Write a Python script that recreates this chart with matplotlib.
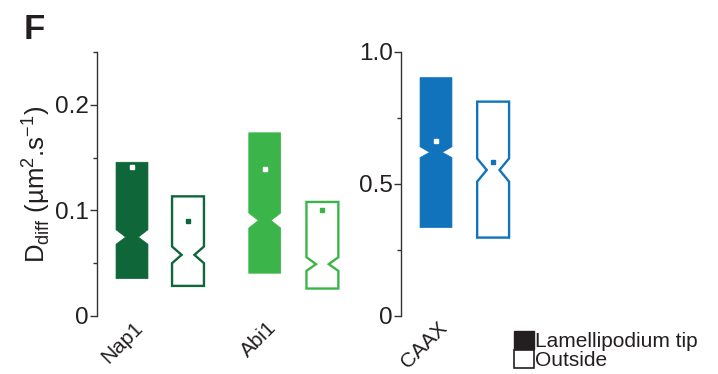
import matplotlib
matplotlib.use("Agg")
import matplotlib.pyplot as plt
from matplotlib.patches import Polygon, Patch

plt.rcParams['font.family'] = ['Liberation Sans', 'DejaVu Sans']

# ---- data ----
groups = ["Nap1", "Abi1", "CAAX"]
colors = ["#0F6638", "#3BB54A", "#1173BB"]

tip_q1 = [0.0354, 0.0405, 0.335]
tip_q3 = [0.1456, 0.1735, 0.903]
tip_med = [0.0747, 0.0905, 0.620]
tip_notch_lo = [0.0680, 0.0833, 0.600]
tip_notch_hi = [0.0817, 0.0975, 0.641]
tip_mean = [0.1410, 0.1393, 0.662]

out_q1 = [0.0285, 0.0260, 0.297]
out_q3 = [0.1133, 0.1080, 0.812]
out_med = [0.0579, 0.0491, 0.553]
out_notch_lo = [0.0500, 0.0427, 0.509]
out_notch_hi = [0.0658, 0.0557, 0.597]
out_mean = [0.0899, 0.1004, 0.582]

W, H = 718, 374
fig = plt.figure(figsize=(W / 100, H / 100), dpi=100)

def px_axes(x0, y0, x1, y1):
    return fig.add_axes([x0 / W, 1 - y1 / H, (x1 - x0) / W, (y1 - y0) / H])

unit = 56.0  # px per x unit
left_lim = 0.375

axL = px_axes(97, 52, 97 + unit * 4.8, 316)
axR = px_axes(401, 52, 401 + unit * 2.8, 316)

def notched(ax, pos, q1, q3, med, lo, hi, mean, color, filled):
    w = 0.57
    ind = 0.3 * w
    l, r = pos - w / 2, pos + w / 2
    verts = [(l, q1), (r, q1), (r, lo), (r - ind, med), (r, hi), (r, q3),
             (l, q3), (l, hi), (l + ind, med), (l, lo)]
    if filled:
        p = Polygon(verts, closed=True, facecolor=color, edgecolor=color, lw=0.5)
        mc = "white"
    else:
        p = Polygon(verts, closed=True, facecolor="white", edgecolor=color, lw=1.7,
                    joinstyle="miter")
        mc = color
    ax.add_patch(p)
    ax.plot([pos], [mean], marker="s", ms=3.5, color=mc, mec=mc, ls="none", zorder=5)

def style(ax, ymax, major, minor, fmt):
    ax.set_ylim(0, ymax)
    for s in ["top", "right", "bottom"]:
        ax.spines[s].set_visible(False)
    ax.spines["left"].set_color("#333333")
    ax.spines["left"].set_linewidth(1.0)
    ax.set_yticks(major)
    ax.set_yticklabels(fmt)
    ax.set_yticks(minor, minor=True)
    ax.tick_params(axis="y", which="major", length=5, width=1.0, colors="#333333",
                   labelsize=17.5, labelcolor="#231F20", pad=1)
    ax.tick_params(axis="y", which="minor", length=3, width=1.0, colors="#333333")
    ax.tick_params(axis="x", length=0, labelsize=15, labelcolor="#231F20", pad=1.5)

posL = [(1.0, 2.0), (3.37, 4.4)]
for i in range(2):
    pt, po = posL[i]
    notched(axL, pt, tip_q1[i], tip_q3[i], tip_med[i], tip_notch_lo[i], tip_notch_hi[i],
            tip_mean[i], colors[i], True)
    notched(axL, po, out_q1[i], out_q3[i], out_med[i], out_notch_lo[i], out_notch_hi[i],
            out_mean[i], colors[i], False)
axL.set_xlim(left_lim, left_lim + 4.8)
style(axL, 0.25, [0, 0.1, 0.2], [0.05, 0.15, 0.25], ["0", "0.1", "0.2"])
off = 15 / unit
axL.set_xticks([p[0] + off for p in posL])
axL.set_xticklabels(groups[:2], rotation=45, ha="right")
axL.set_ylabel(r"D$_{\mathregular{diff}}$ (µm$^{\mathregular{2}}$.s$^{\mathregular{-1}}$)",
               fontsize=18.5, color="#231F20", labelpad=2)

i = 2
notched(axR, 1.0, tip_q1[i], tip_q3[i], tip_med[i], tip_notch_lo[i], tip_notch_hi[i],
        tip_mean[i], colors[i], True)
notched(axR, 2.02, out_q1[i], out_q3[i], out_med[i], out_notch_lo[i], out_notch_hi[i],
        out_mean[i], colors[i], False)
axR.set_xlim(left_lim, left_lim + 2.8)
style(axR, 1.0, [0, 0.5, 1.0], [0.25, 0.75], ["0", "0.5", "1.0"])
axR.set_xticks([1.0 + off])
axR.set_xticklabels(groups[2:], rotation=45, ha="right")

fig.text(24 / W, 1 - 13 / H, "F", fontsize=25, fontweight="bold", color="#231F20",
         va="top", ha="left")

handles = [Patch(facecolor="#231F20", edgecolor="#231F20", lw=1.0),
           Patch(facecolor="white", edgecolor="#231F20", lw=1.2)]
fig.legend(handles, ["Lamellipodium tip", "Outside"], loc="upper left",
           bbox_to_anchor=(514 / W, 1 - 331 / H), frameon=False, fontsize=15,
           handlelength=0.95, handleheight=0.95, handletextpad=0.08, labelspacing=-0.05,
           borderpad=0, borderaxespad=0, labelcolor="#231F20")

fig.savefig("out.png", dpi=100)
